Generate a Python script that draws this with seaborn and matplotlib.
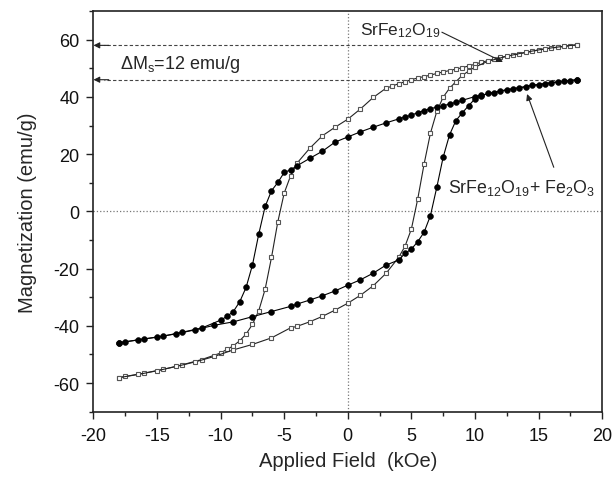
import numpy as np
import pandas as pd
import matplotlib
matplotlib.use("Agg")
from matplotlib import pyplot as plt
import seaborn as sns

# SrFe12O19 (open squares), descending branch (+18 -> -18)
sq_down_h = [18, 17.5, 16.5, 16, 15, 14.5, 13.5, 13, 12, 11.5, 10.5, 10, 9.5, 9, 8.5, 8,
             7.5, 7, 6.5, 6, 5.5, 5, 4.5, 4, 3.5, 3, 2, 1, 0, -1, -2, -3, -4, -4.5, -5,
             -5.5, -6, -6.5, -7, -7.5, -8, -8.5, -9, -9.5, -10, -11.5, -13, -14.5, -16, -17.5, -18]
sq_down_m = [58.2, 57.9, 57.3, 57.1, 56.4, 55.9, 55.1, 54.6, 53.8, 53.2, 52.1, 51.4, 50.8, 50.2, 49.7, 49.2,
             48.7, 48.2, 47.6, 47.1, 46.6, 46.0, 45.3, 44.6, 43.8, 43.0, 39.8, 35.8, 32.2, 29.4, 26.4, 22.0, 16.8, 12.4, 6.4,
             -3.6, -16.1, -27.2, -34.7, -39.5, -42.9, -45.2, -47.0, -48.2, -49.5, -51.8, -53.6, -55.2, -56.5, -57.7, -58.1]
# ascending branch (-18 -> +18)
sq_up_h = [-18, -16.5, -15, -13.5, -12, -10.5, -9, -7.5, -6, -4.5, -4, -3, -2, -1, 0, 1, 2, 3, 4,
           4.5, 5, 5.5, 6, 6.5, 7, 7.5, 8, 8.5, 9, 9.5, 10, 11, 12.5, 14, 15.5, 17, 18]
sq_up_m = [-58.1, -57.0, -55.7, -54.2, -52.6, -50.7, -48.4, -46.5, -44.2, -40.7, -40.2, -38.6, -36.7, -34.5, -32.1,
           -29.3, -26.0, -21.7, -16.1, -12.2, -6.2, 4.3, 16.5, 27.3, 34.9, 39.9, 43.0, 45.3, 47.5, 49.0, 50.4,
           52.4, 54.2, 55.6, 56.8, 57.7, 58.2]

# SrFe12O19 + Fe2O3 (filled circles), descending branch
ci_down_h = [18, 17.5, 16.5, 16, 15, 14.5, 13.5, 13, 12, 11.5, 10.5, 10, 9, 8.5, 8, 7.5, 7, 6.5,
             6, 5.5, 5, 4.5, 4, 3, 2, 1, 0, -1, -2, -3, -4, -4.5, -5, -5.5, -6, -6.5, -7, -7.5,
             -8, -8.5, -9, -9.5, -10, -11.5, -13, -14.5, -16, -17.5, -18]
ci_down_m = [46.0, 45.7, 45.3, 45.0, 44.3, 44.1, 43.1, 42.8, 42.0, 41.4, 40.6, 40.1, 38.8, 38.1, 37.5, 36.9, 36.4, 35.9,
             35.2, 34.5, 33.6, 33.0, 32.3, 30.9, 29.4, 27.8, 26.0, 24.2, 21.0, 18.5, 15.9, 14.5, 13.6, 10.1, 7.2, 1.7,
             -7.9, -18.8, -26.6, -31.6, -35.0, -36.7, -38.0, -40.8, -42.2, -43.6, -44.6, -45.6, -45.9]
# ascending branch
ci_up_h = [-18, -16.5, -15, -13.5, -12, -10.5, -9, -7.5, -6, -4.5, -4, -3, -2, -1, 0, 1, 2, 3, 4,
           4.5, 5, 5.5, 6, 6.5, 7, 7.5, 8, 8.5, 9, 9.5, 10, 10.5, 11, 12.5, 14, 15.5, 17, 18]
ci_up_m = [-45.9, -44.9, -43.9, -42.8, -41.4, -39.8, -38.6, -36.8, -35.0, -33.2, -32.4, -31.0, -29.5, -27.8, -25.8,
           -23.9, -21.6, -18.8, -17.0, -14.7, -13.2, -10.6, -7.3, -1.5, 8.4, 18.9, 26.7, 31.7, 34.4, 36.9, 39.3,
           40.4, 41.2, 42.5, 43.6, 44.6, 45.4, 46.0]

ms_pure = 58
ms_comp = 46

sns.set_theme(style="ticks")
plt.rcParams['font.family'] = ['Liberation Sans', 'DejaVu Sans']
plt.rcParams['mathtext.fontset'] = 'custom'
plt.rcParams['mathtext.rm'] = 'Liberation Sans'
plt.rcParams['mathtext.it'] = 'Liberation Sans:italic'
plt.rcParams['axes.unicode_minus'] = False

fig, ax = plt.subplots(figsize=(6.15, 4.81), dpi=100)
fig.subplots_adjust(left=0.152, right=0.979, bottom=0.142, top=0.975)

ax.axhline(0, color='#777777', ls=':', lw=0.9, zorder=1)
ax.axvline(0, color='#777777', ls=':', lw=0.9, zorder=1)

sq_kw = dict(color='#222222', lw=0.8, marker='s', markersize=3.4, markerfacecolor='white',
             markeredgecolor='#555555', markeredgewidth=0.8, sort=False, ax=ax, zorder=3)
ci_kw = dict(color='black', lw=0.8, marker='o', markersize=4.2, markerfacecolor='black',
             markeredgecolor='black', markeredgewidth=0.4, sort=False, ax=ax, zorder=4)

sns.lineplot(x=sq_down_h, y=sq_down_m, **sq_kw)
sns.lineplot(x=sq_up_h, y=sq_up_m, **sq_kw)
sns.lineplot(x=ci_down_h, y=ci_down_m, **ci_kw)
sns.lineplot(x=ci_up_h, y=ci_up_m, **ci_kw)

# saturation markers
for m in (ms_pure, ms_comp):
    ax.plot([18, -19.2], [m, m], ls=(0, (3, 2)), color='#444444', lw=0.8, zorder=2)
    ax.annotate('', xy=(-20, m), xytext=(-18.8, m),
                arrowprops=dict(arrowstyle='-|>', color='#222222', lw=0.8,
                                mutation_scale=9, shrinkA=0, shrinkB=0))

ax.text(-17.9, 51.5, r'ΔM$_\mathregular{s}$=12 emu/g', fontsize=13, va='center', ha='left')
ax.text(1.0, 63.5, r'SrFe$_\mathregular{12}$O$_\mathregular{19}$', fontsize=12.5, va='center', ha='left')
ax.annotate('', xy=(12.2, 52.2), xytext=(7.4, 62.6),
            arrowprops=dict(arrowstyle='-|>', color='#222222', lw=0.8, mutation_scale=9,
                            shrinkA=0, shrinkB=0))
ax.text(7.9, 8.5, r'SrFe$_\mathregular{12}$O$_\mathregular{19}$+ Fe$_\mathregular{2}$O$_\mathregular{3}$',
        fontsize=12.8, va='center', ha='left')
ax.annotate('', xy=(14.1, 41), xytext=(16.2, 15.4),
            arrowprops=dict(arrowstyle='-|>', color='#222222', lw=0.8, mutation_scale=9,
                            shrinkA=0, shrinkB=0))

ax.set_xlim(-20, 20)
ax.set_ylim(-70, 70)
ax.set_xticks(np.arange(-20, 21, 5))
ax.set_xticks(np.arange(-17.5, 20, 5), minor=True)
ax.set_yticks(np.arange(-60, 61, 20))
ax.set_yticks(np.arange(-70, 71, 20), minor=True)
ax.tick_params(axis='both', which='major', direction='out', length=5, width=1, labelsize=13,
               color='#222222', labelcolor='#111111')
ax.tick_params(axis='x', which='major', pad=6)
ax.tick_params(axis='y', which='major', pad=5)
ax.tick_params(axis='both', which='minor', direction='out', length=3, width=1, color='#222222')
for s in ax.spines.values():
    s.set_linewidth(1.2)
    s.set_color('#222222')

ax.set_xlabel('Applied Field  (kOe)', fontsize=14.5, labelpad=5)
ax.set_ylabel('Magnetization (emu/g)', fontsize=14.5, labelpad=12)

plt.savefig('out.png', dpi=100)
